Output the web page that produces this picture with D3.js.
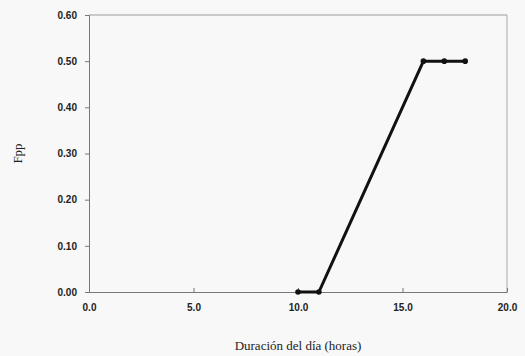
<!DOCTYPE html>
<html>
<head>
<meta charset="utf-8">
<script src="https://d3js.org/d3.v7.min.js"></script>
<style>
  body { margin: 0; background: #f8f8f8; }
  svg { display: block; }
</style>
</head>
<body>
<svg id="chart" width="525" height="356"></svg>
<script>
    // data
    var horas = [10, 11, 16, 17, 18];
    var fpp = [0.0, 0.0, 0.5, 0.5, 0.5];
    var xTicks = [0, 5, 10, 15, 20];
    var yTicks = [0, 0.1, 0.2, 0.3, 0.4, 0.5, 0.6];

    var svg = d3.select("#chart");

    var x = d3.scaleLinear().domain([0, 20]).range([89, 507]);
    var y = d3.scaleLinear().domain([0, 0.6]).range([292, 15]);

    // frame (top and right borders, faint)
    svg.append("line")
        .attr("x1", x(0)).attr("x2", x(20))
        .attr("y1", y(0.6)).attr("y2", y(0.6))
        .attr("stroke", "#999").attr("stroke-width", 1);
    svg.append("line")
        .attr("x1", x(20)).attr("x2", x(20))
        .attr("y1", y(0.6)).attr("y2", y(0))
        .attr("stroke", "#aaa").attr("stroke-width", 1);

    // y axis
    var yAxis = d3.axisLeft(y).tickValues(yTicks).tickFormat(d3.format(".2f")).tickSize(4).tickPadding(8);
    var gy = svg.append("g").attr("transform", "translate(" + x(0) + ",0)").call(yAxis);
    gy.select(".domain").attr("stroke", "#777");
    gy.selectAll(".tick line").attr("stroke", "#777");
    gy.selectAll("text")
        .attr("font-family", "Liberation Sans, Arial, sans-serif")
        .attr("font-size", 10).attr("font-weight", "bold").attr("fill", "#222");

    // x axis, ticks pointing inward
    var xAxis = d3.axisBottom(x).tickValues(xTicks).tickFormat(d3.format(".1f")).tickSize(0).tickPadding(12);
    var gx = svg.append("g").attr("transform", "translate(0," + y(0) + ")").call(xAxis);
    gx.select(".domain").attr("stroke", "#777");
    gx.selectAll(".tick").append("line")
        .attr("y1", 0).attr("y2", -4).attr("stroke", "#777");
    gx.selectAll("text")
        .attr("font-family", "Liberation Sans, Arial, sans-serif")
        .attr("font-size", 10).attr("font-weight", "bold").attr("fill", "#222");

    // axis titles
    svg.append("text")
        .attr("x", 298).attr("y", 350)
        .attr("text-anchor", "middle")
        .attr("font-family", "Liberation Serif, Times New Roman, serif")
        .attr("font-size", 13).attr("fill", "#222")
        .text("Duración del día (horas)");
    svg.append("text")
        .attr("transform", "translate(22," + y(0.3) + ") rotate(-90)")
        .attr("text-anchor", "middle")
        .attr("font-family", "Liberation Serif, Times New Roman, serif")
        .attr("font-size", 13).attr("fill", "#222")
        .text("Fpp");

    // series
    var pts = horas.map(function(h, i) { return [h, fpp[i]]; });
    var line = d3.line().x(function(d) { return x(d[0]); }).y(function(d) { return y(d[1]); });
    svg.append("path")
        .attr("d", line(pts))
        .attr("fill", "none")
        .attr("stroke", "#111")
        .attr("stroke-width", 3)
        .attr("stroke-linejoin", "round");
    svg.selectAll("circle.pt")
        .data(pts)
        .enter()
        .append("circle")
        .attr("class", "pt")
        .attr("cx", function(d) { return x(d[0]); })
        .attr("cy", function(d) { return y(d[1]); })
        .attr("r", 2.8)
        .attr("fill", "#111");
</script>
</body>
</html>
